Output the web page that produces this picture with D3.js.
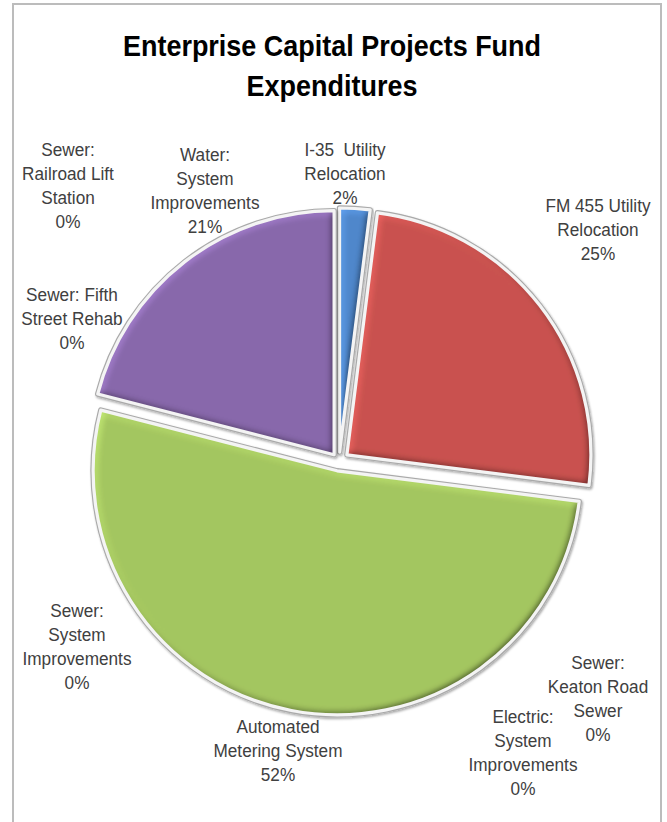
<!DOCTYPE html>
<html>
<head>
<meta charset="utf-8">
<script src="https://cdn.jsdelivr.net/npm/d3@7"></script>
<style>
  html, body { margin: 0; padding: 0; background: #fff; }
  svg { display: block; }
</style>
</head>
<body>
<svg id="chart" width="667" height="822"></svg>
<script>
// Project categories, clockwise from twelve o'clock
const categories = [
  "I-35  Utility Relocation",
  "FM 455 Utility Relocation",
  "Electric: System Improvements",
  "Sewer: Keaton Road Sewer",
  "Automated Metering System",
  "Sewer: System Improvements",
  "Sewer: Fifth Street Rehab",
  "Sewer: Railroad Lift Station",
  "Water: System Improvements"
];

// Share of expenditures (percent)
const shares = [2, 25, 0, 0, 52, 0, 0, 0, 21];

// Wrapped label text for each category
const labelLines = [
  ["I-35  Utility", "Relocation"],
  ["FM 455 Utility", "Relocation"],
  ["Electric:", "System", "Improvements"],
  ["Sewer:", "Keaton Road", "Sewer"],
  ["Automated", "Metering System"],
  ["Sewer:", "System", "Improvements"],
  ["Sewer: Fifth", "Street Rehab"],
  ["Sewer:", "Railroad Lift", "Station"],
  ["Water:", "System", "Improvements"]
];

const sliceColors = ["#4f87cb", "#c9524f", "#8fb04d", "#4bacc6", "#a4c660", "#f79646", "#2c4d75", "#772c2a", "#8868ab"];

// ---- layout ----
const W = 667, H = 822;
const cx = 339, cy = 461, R = 244;
const explode = [9, 10, 0, 0, 10, 0, 0, 0, 8];
// label block anchors: centre x and centre y of the first line
const labelAnchor = [
  [345, 150], [598, 206], [523, 717], [598, 663], [278, 727],
  [77, 611], [72, 295], [68, 150], [205, 155]
];
const lineStep = 24;
const narrow = 0.93;   // horizontal squeeze for the condensed lettering

const svg = d3.select("#chart");
const defs = svg.append("defs");

// bevel: blurred alpha lit from the upper left, multiplied into the fill
const bevel = defs.append("filter").attr("id", "bevel")
  .attr("x", "-5%").attr("y", "-5%").attr("width", "110%").attr("height", "110%");
bevel.append("feGaussianBlur").attr("in", "SourceAlpha").attr("stdDeviation", 3.5).attr("result", "b");
bevel.append("feDiffuseLighting").attr("in", "b").attr("surfaceScale", 3)
  .attr("diffuseConstant", 1).attr("lighting-color", "#fff").attr("result", "l")
  .append("feDistantLight").attr("azimuth", 225).attr("elevation", 45);
bevel.append("feComposite").attr("in", "SourceGraphic").attr("in2", "l")
  .attr("operator", "arithmetic").attr("k1", 1.414).attr("k2", 0).attr("k3", 0).attr("k4", 0)
  .attr("result", "lit");
bevel.append("feComposite").attr("in", "lit").attr("in2", "SourceAlpha").attr("operator", "in");

const shadow = defs.append("filter").attr("id", "shadow")
  .attr("x", "-10%").attr("y", "-10%").attr("width", "120%").attr("height", "120%");
shadow.append("feDropShadow").attr("dx", 1).attr("dy", 1.5).attr("stdDeviation", 1.2)
  .attr("flood-color", "#000").attr("flood-opacity", 0.35);

// frame
svg.append("rect")
  .attr("x", 13).attr("y", 4).attr("width", 648).attr("height", H + 20)
  .attr("fill", "#fff").attr("stroke", "#bcbcbc").attr("stroke-width", 2);

// title
const title = svg.append("g").attr("transform", `translate(332,0) scale(${narrow},1)`)
  .append("text")
  .attr("text-anchor", "middle")
  .attr("font-family", "'Liberation Sans', Arial, sans-serif")
  .attr("font-weight", "bold").attr("font-size", 29).attr("fill", "#000");
title.append("tspan").attr("x", 0).attr("y", 56).text("Enterprise Capital Projects Fund");
title.append("tspan").attr("x", 0).attr("y", 96).text("Expenditures");

// pie
const data = categories.map((c, i) => ({ name: c, value: shares[i], i }));
const pie = d3.pie().sort(null).value(d => d.value).startAngle(0).endAngle(2 * Math.PI);
const arcs = pie(data);
const arc = d3.arc().innerRadius(0).outerRadius(R);
const total = d3.sum(shares);

const slices = svg.append("g").attr("transform", `translate(${cx},${cy})`)
  .selectAll("g.slice")
  .data(arcs.filter(a => a.value > 0))
  .join("g")
  .attr("class", "slice")
  .attr("transform", a => {
    const mid = (a.startAngle + a.endAngle) / 2;
    const e = explode[a.data.i];
    return `translate(${Math.sin(mid) * e},${-Math.cos(mid) * e})`;
  });

slices.append("path").attr("d", arc)
  .attr("fill", "none").attr("stroke", "#a9a9a9").attr("stroke-width", 5.5)
  .attr("stroke-linejoin", "round").attr("filter", "url(#shadow)");
slices.append("path").attr("d", arc)
  .attr("fill", a => sliceColors[a.data.i]).attr("filter", "url(#bevel)");
slices.append("path").attr("d", arc)
  .attr("fill", "none").attr("stroke", "#f4f4f4").attr("stroke-width", 3.2)
  .attr("stroke-linejoin", "round");

// data labels
const pct = d3.format(".0%");
const labels = svg.append("g")
  .attr("font-family", "'Liberation Sans', Arial, sans-serif")
  .attr("font-size", 18.5).attr("fill", "#404040").attr("text-anchor", "middle");

arcs.forEach(a => {
  const i = a.data.i;
  const [lx, ly] = labelAnchor[i];
  const lines = labelLines[i].concat([pct(a.value / total)]);
  const t = labels.append("g").attr("transform", `translate(${lx},0) scale(${narrow},1)`)
    .append("text").attr("xml:space", "preserve").style("white-space", "pre");
  lines.forEach((s, k) => {
    t.append("tspan").attr("x", 0).attr("y", ly + k * lineStep).attr("dy", "0.35em").text(s);
  });
});
</script>
</body>
</html>
